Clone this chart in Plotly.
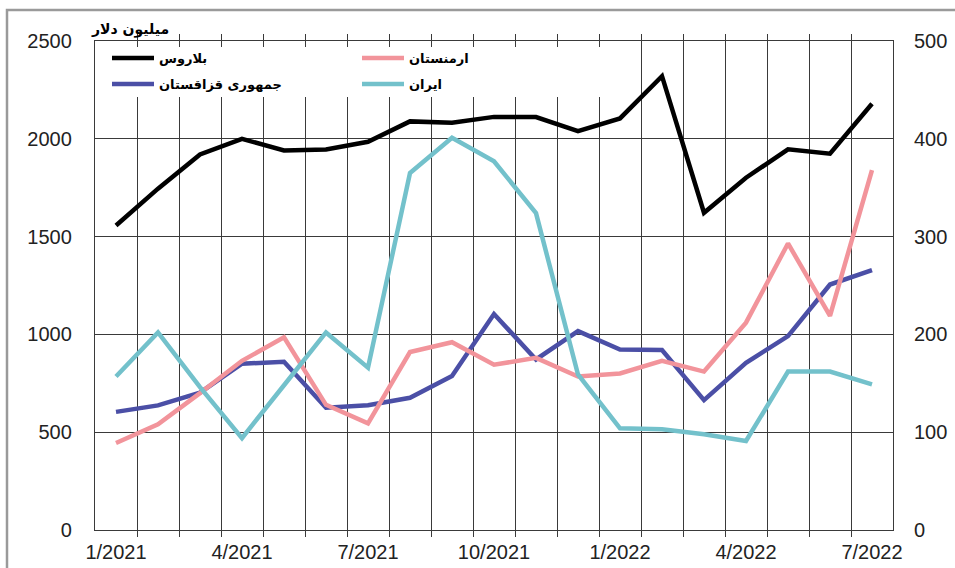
import plotly.graph_objects as go

months = ["1/2021", "2/2021", "3/2021", "4/2021", "5/2021", "6/2021", "7/2021", "8/2021",
          "9/2021", "10/2021", "11/2021", "12/2021", "1/2022", "2/2022", "3/2022", "4/2022",
          "5/2022", "6/2022", "7/2022"]
tick_labels = [m if m.split("/")[0] in ("1", "4", "7", "10") else "" for m in months]

# left axis (million dollars)
belarus = [1557, 1745, 1920, 2000, 1940, 1945, 1985, 2089, 2082, 2112, 2111, 2039, 2104, 2320,
           1622, 1801, 1946, 1924, 2179]
kazakhstan = [604, 637, 702, 850, 860, 625, 638, 676, 787, 1104, 872, 1017, 923, 920, 664, 855,
              991, 1255, 1329]
# right axis (million dollars)
armenia = [89, 108, 140, 173, 197, 128, 109, 182, 192, 169, 176, 157, 160, 173, 162, 212, 293,
           219, 368]
iran = [157, 202, 146, 94, 148, 202, 166, 365, 401, 377, 324, 159, 104, 103, 98, 91, 162, 162,
        149]

names = {"belarus": "بلاروس", "kazakhstan": "جمهوری قزاقستان", "armenia": "ارمنستان", "iran": "ایران"}
colors = {"belarus": "#000000", "kazakhstan": "#4B4FA6", "armenia": "#F2949B", "iran": "#73C1CB"}

W, H = 955, 568
L, R, T, B = 95, 893, 41, 530
pw, ph = R - L, B - T


def px(x):
    return (x - L) / pw


def py(y):
    return (B - y) / ph


fig = go.Figure()
series = [("belarus", belarus, "y", "legend"), ("armenia", armenia, "y2", "legend3"),
          ("kazakhstan", kazakhstan, "y", "legend2"), ("iran", iran, "y2", "legend4")]
for key, vals, yax, leg in series:
    fig.add_trace(go.Scatter(x=months, y=vals, mode="lines", name=names[key], yaxis=yax,
                             line=dict(color=colors[key], width=4.5), legend=leg))

tickfont = dict(family="Liberation Sans, Arial, sans-serif", size=20, color="#222222")
legfont = dict(family="DejaVu Sans, sans-serif", size=13, color="#000000", weight="bold")

leg_common = dict(bgcolor="rgba(0,0,0,0)", borderwidth=0, font=legfont, xanchor="left",
                  yanchor="middle", itemwidth=42, tracegroupgap=0)
fig.update_layout(
    width=W, height=H,
    margin=dict(l=L, r=W - R, t=T, b=H - B, pad=0, autoexpand=False),
    paper_bgcolor="white", plot_bgcolor="white",
    showlegend=True,
    legend=dict(x=px(107), y=py(58), **leg_common),
    legend2=dict(x=px(107), y=py(84), **leg_common),
    legend3=dict(x=px(357), y=py(58), **leg_common),
    legend4=dict(x=px(357), y=py(84), **leg_common),
    xaxis=dict(type="category", categoryorder="array", categoryarray=months,
               tickmode="array", tickvals=months, ticktext=tick_labels, tickangle=0,
               tickson="boundaries", range=[-0.5, len(months) - 0.5], automargin=False,
               showgrid=True, gridcolor="#3a3a3a", gridwidth=1.3,
               showline=True, linecolor="#3a3a3a", linewidth=1.3, mirror="allticks",
               ticks="inside", ticklen=6, tickcolor="#3a3a3a", tickwidth=1.3,
               tickfont=tickfont, ticklabelstandoff=4, zeroline=False),
    yaxis=dict(range=[0, 2500], dtick=500, tick0=0, showgrid=True, gridcolor="#3a3a3a",
               gridwidth=1.3, showline=True, linecolor="#3a3a3a", linewidth=1.3, mirror=True,
               ticks="", tickfont=tickfont, ticklabelstandoff=18, zeroline=False,
               automargin=False),
    yaxis2=dict(range=[0, 500], dtick=100, tick0=0, overlaying="y", side="right",
                showgrid=False, showline=False, ticks="", tickfont=tickfont,
                ticklabelstandoff=20, zeroline=False, automargin=False),
    shapes=[
        dict(type="rect", xref="paper", yref="paper", x0=px(97), x1=px(615), y0=py(97),
             y1=py(47), fillcolor="white", line=dict(width=0), layer="above"),
        dict(type="rect", xref="paper", yref="paper", x0=px(7), x1=px(970), y0=py(580),
             y1=py(10), fillcolor="rgba(0,0,0,0)", line=dict(color="#9a9a9a", width=2.5),
             layer="above"),
    ],
    annotations=[
        dict(text="میلیون دلار", xref="paper", yref="paper", x=px(89), y=py(30),
             xanchor="left", yanchor="middle", showarrow=False,
             font=dict(family="DejaVu Sans, sans-serif", size=14, color="#000000",
                       weight="bold")),
    ],
)

fig.write_html("out.html", config={"displayModeBar": False},
               post_script="document.body.style.margin='0';document.body.style.overflow='hidden';")
